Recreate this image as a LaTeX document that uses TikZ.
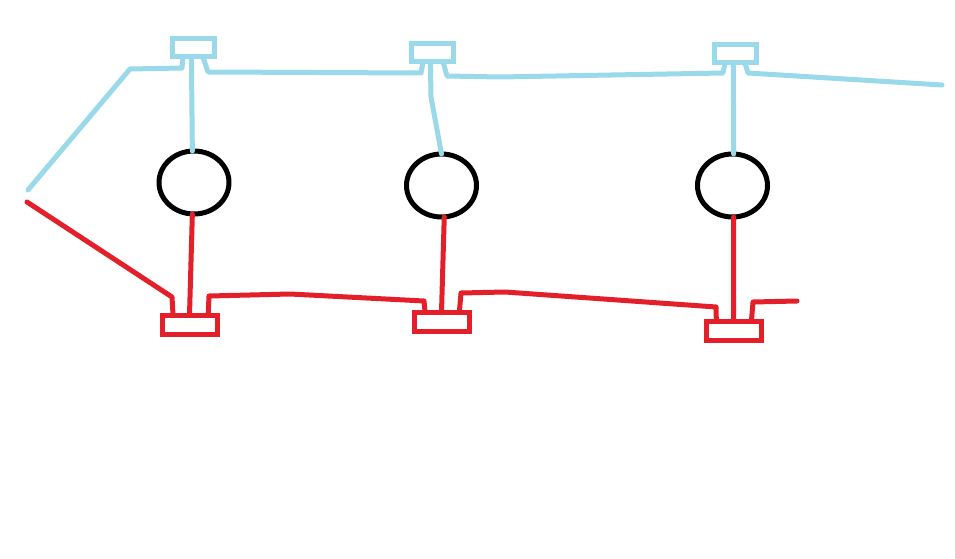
\documentclass[tikz,border=0pt]{standalone}
\usetikzlibrary{shapes.geometric}
\definecolor{wireblue}{HTML}{99D9EA}
\definecolor{wirered}{HTML}{E3202A}
\tikzset{
  topbox/.style={draw=wireblue, rectangle, line join=miter, minimum width=42pt, minimum height=18pt, inner sep=0pt, outer sep=0pt},
  botbox/.style={draw=wirered, rectangle, line join=miter, minimum width=55pt, minimum height=19pt, inner sep=0pt, outer sep=0pt},
  hole/.style={draw=black, ellipse, minimum width=70pt, minimum height=63pt, inner sep=0pt, outer sep=0pt},
  bluewire/.style={draw=wireblue},
  redwire/.style={draw=wirered}
}
\begin{document}
\begin{tikzpicture}[x=1pt, y=-1pt, line width=5pt, line cap=round, line join=round]
  \useasboundingbox (0,0) rectangle (955,559);

  % Top boxes
  \node[topbox] (ta) at (193, 48) {};
  \node[topbox] (tb) at (432, 53) {};
  \node[topbox] (tc) at (735, 54) {};

  % Circles
  \node[hole] (ca) at (194, 182.5) {};
  \node[hole] (cb) at (441.5, 185.5) {};
  \node[hole] (cc) at (732.5, 185.5) {};

  % Bottom boxes
  \node[botbox] (ba) at (189.5, 324.5) {};
  \node[botbox] (bb) at (441.5, 321.5) {};
  \node[botbox] (bc) at (733.5, 331) {};

  % Free ends
  \coordinate (bluestart) at (28, 190);
  \coordinate (blueend) at (942, 85);
  \coordinate (redstart) at (27, 202);
  \coordinate (redend) at (797, 301);

  % Blue line, box to box
  \draw[bluewire] (bluestart) -- (130, 69) -- (182, 68) -- (ta.-138);
  \draw[bluewire] (ta.-42) -- (208, 72) -- (421, 73) -- (tb.-135);
  \draw[bluewire] (tb.-39) -- (447, 76) -- (500, 77) -- (723, 73) -- (tc.-138);
  \draw[bluewire] (tc.-42) -- (748, 73) -- (blueend);

  % Blue stems
  \draw[bluewire] (ta.-100) -- (ca.93);
  \draw[bluewire] (tb.-100) -- (431, 97) -- (cb.north);
  \draw[bluewire] (tc.-100) -- (cc.88);

  % Red line, box to box
  \draw[redwire] (redstart) -- (172, 297) -- (ba.150);
  \draw[redwire] (ba.27) -- (209, 296) -- (250, 295) -- (290, 294) -- (424, 301) -- (bb.150);
  \draw[redwire] (bb.28) -- (461, 293) -- (505, 292) -- (716, 307) -- (bc.151);
  \draw[redwire] (bc.28) -- (753, 302) -- (redend);

  % Red stems
  \draw[redwire] (ca.-93) -- (ba.north);
  \draw[redwire] (cb.-85) -- (bb.north);
  \draw[redwire] (cc.-88) -- (bc.north);
\end{tikzpicture}
\end{document}
